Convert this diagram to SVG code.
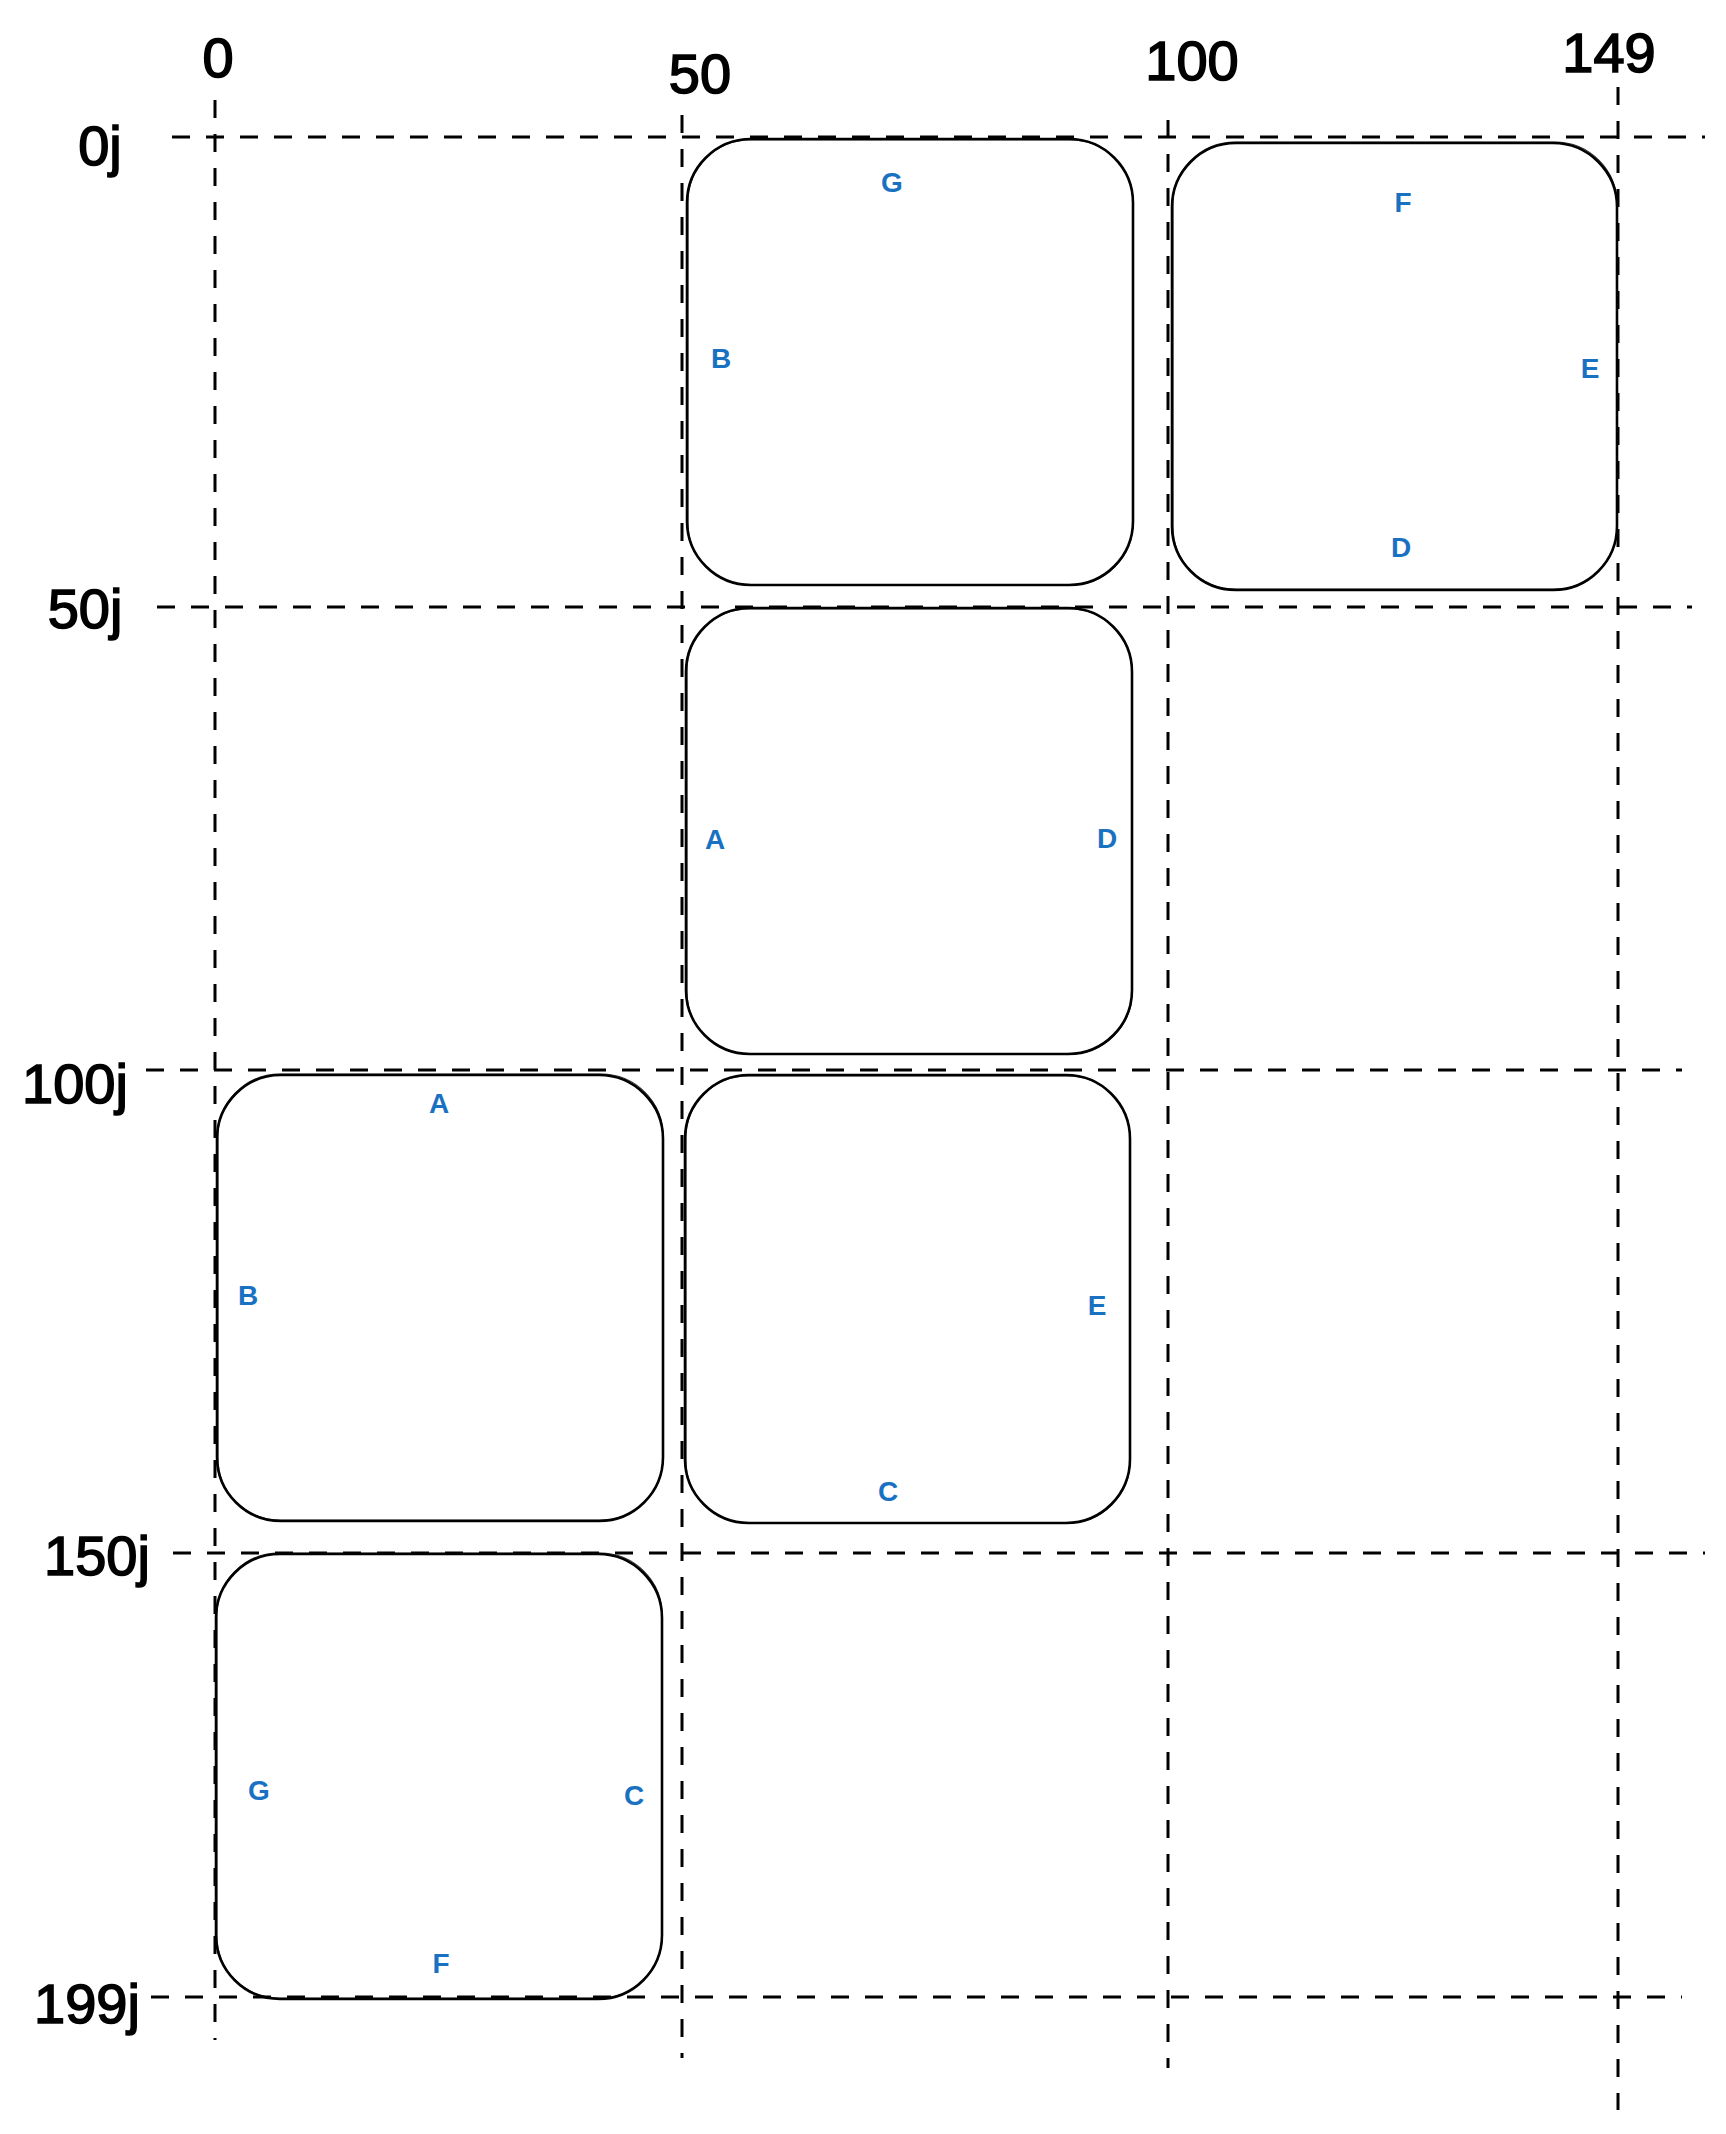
<svg xmlns="http://www.w3.org/2000/svg" width="1726" height="2134" viewBox="0 0 1726 2134">
<style>
.grid line{stroke:#000;stroke-width:3;stroke-dasharray:18 16;fill:none}
.face{fill:none;stroke:#000;stroke-width:2.6}
.face2{fill:none;stroke:#000;stroke-width:1.1;opacity:.8}
.ax{font-family:"Liberation Sans",Arial,sans-serif;font-size:56px;fill:#000;stroke:#000;stroke-width:1.6;text-anchor:middle}
.lb{font-family:"Liberation Sans",Arial,sans-serif;font-size:28px;font-weight:bold;fill:#1971c2;text-anchor:middle}
</style>
<rect width="1726" height="2134" fill="#fff"/>
<g id="grid" class="grid">
<line x1="215" y1="100" x2="215" y2="2040"/>
<line x1="682" y1="115" x2="682" y2="2058"/>
<line x1="1168" y1="120" x2="1168" y2="2068"/>
<line x1="1618" y1="87" x2="1618" y2="2110"/>
<line x1="172" y1="137" x2="1705" y2="137"/>
<line x1="157" y1="607" x2="1692" y2="607"/>
<line x1="146" y1="1070" x2="1682" y2="1070"/>
<line x1="173" y1="1553" x2="1705" y2="1553"/>
<line x1="151" y1="1997" x2="1682" y2="1997"/>
</g>
<g id="axis-labels">
<text class="ax" x="218" y="77">0</text>
<text class="ax" x="700" y="93">50</text>
<text class="ax" x="1192" y="80">100</text>
<text class="ax" x="1609" y="72">149</text>
<text class="ax" x="100" y="165">0j</text>
<text class="ax" x="85" y="628">50j</text>
<text class="ax" x="75" y="1103">100j</text>
<text class="ax" x="97" y="1575">150j</text>
<text class="ax" x="87" y="2023">199j</text>
</g>
<g id="face-top-middle">
<rect class="face" x="687" y="139" width="446" height="446" rx="64"/>
<rect class="face2" x="688" y="140" width="445" height="445" rx="62"/>
<text class="lb" x="892" y="192">G</text>
<text class="lb" x="721" y="368">B</text>
</g>
<g id="face-top-right">
<rect class="face" x="1172" y="143" width="445" height="447" rx="64"/>
<rect class="face2" x="1173" y="142" width="444" height="447" rx="62"/>
<text class="lb" x="1403" y="212">F</text>
<text class="lb" x="1590" y="378">E</text>
<text class="lb" x="1401" y="557">D</text>
</g>
<g id="face-middle">
<rect class="face" x="686" y="608" width="446" height="446" rx="64"/>
<rect class="face2" x="687" y="609" width="445" height="445" rx="62"/>
<text class="lb" x="715" y="849">A</text>
<text class="lb" x="1107" y="848">D</text>
</g>
<g id="face-lower-left">
<rect class="face" x="217" y="1075" width="446" height="446" rx="64"/>
<rect class="face2" x="218" y="1074" width="445" height="446" rx="62"/>
<text class="lb" x="439" y="1113">A</text>
<text class="lb" x="248" y="1305">B</text>
</g>
<g id="face-lower-middle">
<rect class="face" x="685" y="1075" width="445" height="448" rx="64"/>
<rect class="face2" x="686" y="1076" width="444" height="447" rx="62"/>
<text class="lb" x="1097" y="1315">E</text>
<text class="lb" x="888" y="1501">C</text>
</g>
<g id="face-bottom-left">
<rect class="face" x="216" y="1554" width="446" height="445" rx="64"/>
<rect class="face2" x="217" y="1553" width="445" height="445" rx="62"/>
<text class="lb" x="259" y="1800">G</text>
<text class="lb" x="634" y="1805">C</text>
<text class="lb" x="441" y="1973">F</text>
</g>
</svg>
